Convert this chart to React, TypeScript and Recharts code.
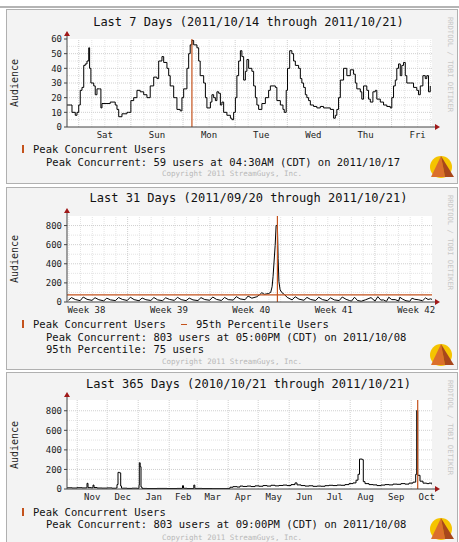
import React from "react";
import { LineChart, Line, XAxis, YAxis, ReferenceLine } from "recharts";

const MONO = '"DejaVu Sans Mono", monospace';
const PEAK = "#c4521c";
const W = 459;
const PLOT_L = 67;
const PLOT_R = 432;

// ---- last 7 days: hours since window start (Fri 10/14 evening)
const WEEK_HOURS = [
  0, 1.5, 2.3, 3.8, 4.6, 5.4, 6.1, 6.9, 7.7, 8.4,
  9.2, 10.0, 10.4, 11.0, 12.3, 13.0, 13.8, 15.0, 15.6, 16.1,
  18.4, 19.9, 22.2, 23.0, 23.8, 25.3, 27.6, 28.4, 29.4, 30.7,
  32.2, 33.7, 35.3, 36.8, 38.3, 39.9, 41.4, 42.2, 43.7, 44.5,
  46.0, 46.8, 47.5, 49.1, 49.8, 50.6, 52.1, 52.9, 53.7, 55.2,
  56.0, 56.7, 57.5, 58.3, 59.8, 60.6, 61.3, 62.9, 63.7, 64.4,
  66.0, 66.7, 67.5, 68.3, 69.0, 69.8, 70.6, 71.3, 72.1, 73.6,
  75.2, 75.9, 76.7, 77.5, 78.2, 79.0, 79.8, 80.5, 81.3, 82.1,
  82.8, 83.6, 85.1, 85.9, 86.7, 87.4, 88.2, 89.7, 91.3, 92.8,
  93.6, 95.9, 96.6, 98.2, 99.4, 100.0, 100.9, 101.5, 102.5, 103.5,
  104.3, 105.1, 106.6, 107.4, 108.1, 108.9, 109.7, 110.4, 111.2, 112.0,
  113.5, 115.0, 116.6, 118.1, 119.6, 121.2, 122.7, 123.5, 124.2, 125.0,
  125.8, 127.3, 128.8, 130.4, 131.9, 132.7, 133.4, 135.0, 135.7, 136.5,
  138.0, 138.8, 139.6, 140.8, 141.9, 142.6, 144.2, 145.7, 147.2, 148.8,
  149.5, 150.3, 151.1, 151.8, 152.6, 153.4, 154.1, 154.9, 155.7, 156.4,
  158.0, 159.5, 161.0, 161.8, 162.6, 163.8, 164.9, 165.6, 166.4, 167.2,
];
const WEEK_USERS = [
  15, 15, 10, 8, 10, 15, 25, 27, 42, 43,
  45, 54, 40, 30, 28, 22, 26, 26, 13, 16,
  16, 17, 15, 12, 7, 9, 10, 10, 18, 20,
  25, 24, 22, 20, 28, 34, 33, 45, 48, 44,
  40, 35, 28, 20, 20, 12, 11, 20, 26, 40,
  50, 56, 59, 56, 54, 45, 35, 30, 20, 13,
  17, 22, 20, 18, 24, 23, 15, 17, 10, 8,
  6, 5, 10, 20, 35, 45, 52, 48, 32, 38,
  46, 40, 38, 28, 20, 15, 12, 16, 20, 25,
  28, 27, 18, 15, 12, 10, 25, 40, 52, 50,
  45, 42, 40, 33, 30, 27, 22, 20, 18, 15,
  14, 13, 14, 13, 13, 12, 6, 8, 12, 20,
  32, 40, 35, 39, 36, 30, 26, 24, 19, 28,
  25, 19, 17, 24, 25, 19, 17, 15, 14, 13,
  20, 28, 32, 40, 43, 35, 42, 44, 35, 30,
  30, 27, 25, 22, 28, 35, 33, 35, 24, 28,
];
const WEEK_LABELS = ["Sat", "Sun", "Mon", "Tue", "Wed", "Thu", "Fri"];
const WEEK_LABEL_POS = [17.4, 41.4, 65.4, 89.4, 113.4, 137.4, 161.4];
const WEEK_DAY_EDGES = [5.4, 29.4, 53.4, 77.4, 101.4, 125.4, 149.4];
const WEEK_PEAK = 57.5;

// ---- last 31 days: days since window start (09/20 evening)
const MONTH_DAYS = [
  0.12, 0.38, 0.7, 1.12, 1.38, 1.7, 2.12, 2.38, 2.7, 3.12, 3.38, 3.7,
  4.12, 4.38, 4.7, 5.12, 5.38, 5.7, 6.12, 6.38, 6.7, 7.12, 7.38, 7.7,
  8.12, 8.38, 8.7, 9.12, 9.38, 9.7, 10.12, 10.38, 10.7, 11.12, 11.38, 11.7,
  12.12, 12.38, 12.7, 13.12, 13.38, 13.7, 14.12, 14.38, 14.7, 15.12, 15.38, 15.7,
  16.12, 16.38, 16.55, 16.75, 17.1, 17.3, 17.42, 17.5, 17.68, 17.76, 17.87, 17.93,
  18.0, 18.1, 18.27, 18.5, 18.7, 19.12, 19.38, 19.7, 20.12, 20.38, 20.7,
  21.12, 21.38, 21.7, 22.12, 22.38, 22.7, 23.12, 23.38, 23.7,
  24.0, 24.16, 24.42, 24.67, 24.99, 25.37, 25.82, 26.08, 26.17, 26.4, 26.65, 26.88,
  27.13, 27.33, 27.58, 27.87, 28.17, 28.27, 28.5, 28.79, 29.11, 29.3, 29.54, 29.83,
  30.2, 30.45, 30.67, 30.88, 31.0,
];
const MONTH_USERS = [
  18, 46, 26, 14, 52, 28, 17, 45, 24, 12, 40, 22,
  15, 47, 27, 16, 50, 25, 13, 42, 24, 16, 47, 22,
  14, 44, 27, 17, 49, 25, 14, 41, 22, 15, 46, 26,
  18, 52, 27, 16, 48, 25, 20, 56, 32, 24, 62, 40,
  55, 78, 98, 80, 88, 100, 160, 265, 593, 800, 803, 455,
  213, 127, 96, 75, 48, 22, 55, 30, 18, 48, 26,
  16, 50, 25, 14, 44, 22, 15, 52, 28,
  15, 9, 50, 16, 8, 24, 46, 18, 11, 56, 20, 22,
  6, 50, 25, 25, 10, 50, 30, 13, 7, 40, 28, 24,
  13, 43, 26, 33, 27,
];
const MONTH_LABELS = ["Week 38", "Week 39", "Week 40", "Week 41", "Week 42"];
const MONTH_LABEL_POS = [1.65, 8.65, 15.65, 22.65, 29.65];
const MONTH_WEEK_EDGES = [5.15, 12.15, 19.15, 26.15];
const MONTH_PEAK = 17.87;
const MONTH_P95 = 75;

// ---- last 365 days: days since window start (2010/10/21)
const YEAR_DAYS = [
  0, 5, 10, 15, 19.5, 20, 21, 24, 26, 27, 30, 35, 40, 45, 49, 50, 51, 52.5, 53.7, 54.5,
  60, 65, 70, 72, 72.3, 73.2, 74, 75, 80, 90, 100, 110, 115.5, 116.5, 120, 126.8, 127.8, 135,
  145, 155, 160, 163, 166, 170, 173, 176, 180, 184, 188, 192, 196, 200, 204, 208, 212, 216,
  220, 224, 228, 230, 234, 238, 242, 246, 250, 254, 258, 262, 266, 270, 274, 278, 282, 286,
  289, 291, 292.5, 295.3, 296.3, 298, 302, 306, 310, 314, 318, 322, 326, 330, 334, 338, 342,
  346, 348.7, 349.7, 350.7, 353, 356, 359.7, 362, 365,
];
const YEAR_USERS = [
  12, 10, 13, 11, 12, 58, 14, 12, 40, 15, 10, 9, 11, 8, 10, 45, 170, 165, 30, 8,
  6, 8, 7, 40, 268, 228, 20, 6, 5, 6, 5, 6, 34, 7, 5, 40, 6, 5,
  4, 4, 6, 18, 24, 20, 30, 26, 30, 25, 32, 28, 35, 30, 38, 32, 36, 40,
  35, 45, 62, 42, 35, 30, 33, 27, 30, 28, 34, 38, 35, 40, 38, 45, 55, 62,
  90, 150, 306, 300, 75, 55, 45, 42, 35, 40, 45, 42, 50, 48, 55, 50, 60,
  70, 150, 803, 140, 80, 60, 55, 60, 45,
];
const YEAR_LABELS = ["Nov", "Dec", "Jan", "Feb", "Mar", "Apr", "May", "Jun", "Jul", "Aug", "Sep", "Oct"];
const YEAR_LABEL_POS = [25.2, 55.7, 86.7, 116.2, 145.7, 176.2, 206.7, 237.2, 267.7, 298.7, 329.2, 359.7];
const YEAR_MONTH_EDGES = [10.2, 40.2, 71.2, 102.2, 130.2, 161.2, 191.2, 222.2, 252.2, 283.2, 314.2, 344.2];
const YEAR_PEAK = 350.7;

const zip = (xs: number[], ys: number[]) => xs.map((x, i) => ({ t: x, users: ys[i] }));

const steps = (from: number, to: number, step: number, skip: number[] = []) => {
  const out: number[] = [];
  for (let v = from; v <= to + 1e-6; v += step) {
    if (!skip.some((s) => Math.abs(s - v) < 1e-6)) out.push(+v.toFixed(2));
  }
  return out;
};

interface PanelProps {
  boxTop: number;
  boxBottom: number;
  titleY: number;
  plotTop: number;
  plotBottom: number;
  title: string;
  data: { t: number; users: number }[];
  xMax: number;
  yMax: number;
  yTicks: number[];
  labels: string[];
  labelPos: number[];
  majorX: number[];
  minorX: number[];
  majorY: number[];
  minorY: number[];
  curve: "stepAfter" | "linear";
  peak: number;
  p95?: number;
  legendY: number[];
  legendLines: string[];
  copyrightY: number;
  logoTop: number;
}

const text = (x: number, y: number, size: number, s: string, extra: React.CSSProperties = {}) => (
  <div
    style={{
      position: "absolute",
      left: x,
      top: y - size / 2 - 1,
      fontFamily: MONO,
      fontSize: size,
      lineHeight: `${size + 2}px`,
      whiteSpace: "pre",
      color: "#111",
      ...extra,
    }}
  >
    {s}
  </div>
);

function Logo({ top }: { top: number }) {
  return (
    <svg style={{ position: "absolute", left: 428, top }} width={28} height={24}>
      <circle cx={13} cy={11} r={11} fill="#f5c400" />
      <polygon points="13,0 3,21 17,21" fill="#db6f2c" />
      <polygon points="13,0 17,21 26,21" fill="#a8471c" />
    </svg>
  );
}

function Panel(p: PanelProps) {
  const plotH = p.plotBottom - p.plotTop;
  const chartTop = p.plotTop - 6;
  const mid = (p.plotTop + p.plotBottom) / 2;
  return (
    <>
      <div
        style={{
          position: "absolute",
          left: 6,
          top: p.boxTop,
          width: 450,
          height: p.boxBottom - p.boxTop - 2,
          background: "#f3f3f3",
          border: "1px solid #b0b0b0",
        }}
      />
      <div
        style={{
          position: "absolute",
          left: PLOT_L,
          top: p.plotTop,
          width: PLOT_R - PLOT_L,
          height: plotH,
          background: "#fff",
        }}
      />
      <div style={{ position: "absolute", left: 0, top: 0, width: W, textAlign: "center" }}>
        <div
          style={{
            position: "absolute",
            left: 248.5 - 200,
            top: p.titleY - 7,
            width: 400,
            textAlign: "center",
            fontFamily: MONO,
            fontSize: 12,
            lineHeight: "14px",
            whiteSpace: "pre",
            color: "#111",
          }}
        >
          {p.title}
        </div>
      </div>
      <div
        style={{
          position: "absolute",
          left: 15 - 40,
          top: mid - 44 - 6,
          width: 80,
          textAlign: "center",
          fontFamily: MONO,
          fontSize: 10,
          lineHeight: "12px",
          color: "#222",
          transform: "rotate(-90deg)",
          transformOrigin: "40px 6px",
          marginTop: 44,
        }}
      >
        Audience
      </div>
      <div
        style={{
          position: "absolute",
          left: 450 - 60,
          top: p.boxTop + 56 - 5,
          width: 120,
          textAlign: "center",
          fontFamily: MONO,
          fontSize: 7.2,
          lineHeight: "9px",
          color: "#c8c8c8",
          transform: "rotate(90deg)",
          transformOrigin: "60px 4.5px",
          whiteSpace: "pre",
        }}
      >
        RRDTOOL / TOBI OETIKER
      </div>
      <div style={{ position: "absolute", left: 0, top: chartTop }}>
        <LineChart
          width={W}
          height={plotH + 26}
          data={p.data}
          margin={{ top: 6, right: W - PLOT_R, left: PLOT_L - 40, bottom: 6 }}
        >
          <XAxis
            dataKey="t"
            type="number"
            domain={[0, p.xMax]}
            ticks={p.labelPos}
            interval={0}
            tickFormatter={(v: number) => p.labels[p.labelPos.indexOf(v)] ?? ""}
            tickLine={false}
            tickSize={5}
            tickMargin={0}
            height={14}
            axisLine={{ stroke: "#444" }}
            tick={{ fontSize: 9, fontFamily: MONO, fill: "#222" }}
            allowDataOverflow
          />
          <YAxis
            type="number"
            domain={[0, p.yMax]}
            ticks={p.yTicks}
            interval={0}
            width={40}
            tickSize={3}
            tickMargin={2}
            tickLine={{ stroke: "#444" }}
            axisLine={{ stroke: "#444" }}
            tick={{ fontSize: 9, fontFamily: MONO, fill: "#222" }}
            allowDataOverflow
          />
          {p.minorX.map((v) => (
            <ReferenceLine key={`mx${v}`} x={v} stroke="#e4e4e4" strokeDasharray="1 1" />
          ))}
          {p.minorY.map((v) => (
            <ReferenceLine key={`my${v}`} y={v} stroke="#e4e4e4" strokeDasharray="1 1" />
          ))}
          {p.majorX.map((v) => (
            <ReferenceLine key={`Mx${v}`} x={v} stroke="#cfcfcf" strokeDasharray="1 1" />
          ))}
          {p.majorY.map((v) => (
            <ReferenceLine key={`My${v}`} y={v} stroke="#cfcfcf" strokeDasharray="1 1" />
          ))}
          <Line
            type={p.curve}
            dataKey="users"
            stroke="#000"
            strokeWidth={1}
            dot={false}
            activeDot={false}
            isAnimationActive={false}
          />
          {p.p95 !== undefined && <ReferenceLine y={p.p95} stroke={PEAK} strokeWidth={1.2} />}
          <ReferenceLine x={p.peak} stroke={PEAK} strokeWidth={1.2} />
        </LineChart>
      </div>
      <svg style={{ position: "absolute", left: 0, top: 0 }} width={W} height={545}>
        <line x1={PLOT_L} y1={p.plotTop} x2={PLOT_L} y2={p.plotTop - 4} stroke="#444" />
        <polygon
          points={`${PLOT_L - 3},${p.plotTop - 3} ${PLOT_L + 3},${p.plotTop - 3} ${PLOT_L},${p.plotTop - 8}`}
          fill="#a01818"
        />
        <line x1={PLOT_R} y1={p.plotBottom} x2={PLOT_R + 4} y2={p.plotBottom} stroke="#444" />
        <polygon
          points={`${PLOT_R + 3},${p.plotBottom - 3} ${PLOT_R + 3},${p.plotBottom + 3} ${PLOT_R + 8},${p.plotBottom}`}
          fill="#a01818"
        />
      </svg>
      {p.legendLines.map((s, i) =>
        text(i === 0 ? 33 : 46, p.legendY[i], 10.5, s, { key: i } as any)
      )}
      <div
        style={{
          position: "absolute",
          left: 22,
          top: p.legendY[0] - 4,
          width: 2,
          height: 8,
          background: PEAK,
        }}
      />
      {p.p95 !== undefined && (
        <>
          <div
            style={{
              position: "absolute",
              left: 181,
              top: p.legendY[0] - 0.5,
              width: 6,
              height: 1.5,
              background: PEAK,
            }}
          />
          {text(196, p.legendY[0], 10.5, "95th Percentile Users")}
        </>
      )}
      <div
        style={{
          position: "absolute",
          left: 232 - 100,
          top: p.copyrightY - 5,
          width: 200,
          textAlign: "center",
          fontFamily: MONO,
          fontSize: 7.5,
          lineHeight: "10px",
          color: "#b8b8b8",
        }}
      >
        Copyright 2011 StreamGuys, Inc.
      </div>
      <Logo top={p.logoTop} />
    </>
  );
}

export default function App() {
  return (
    <div
      style={{
        position: "absolute",
        left: 0,
        top: 0,
        width: W,
        height: 542,
        overflow: "hidden",
        background: "#fff",
      }}
    >
      <div style={{ position: "absolute", left: 0, top: 6, width: W, height: 2, background: "#b4b4b4" }} />
      <Panel
        boxTop={9}
        boxBottom={184}
        titleY={22}
        plotTop={39}
        plotBottom={127}
        title="Last 7 Days (2011/10/14 through 2011/10/21)"
        data={zip(WEEK_HOURS, WEEK_USERS)}
        xMax={168}
        yMax={60}
        yTicks={[0, 10, 20, 30, 40, 50, 60]}
        labels={WEEK_LABELS}
        labelPos={WEEK_LABEL_POS}
        majorX={WEEK_DAY_EDGES}
        minorX={steps(5.4, 167.4, 6, WEEK_DAY_EDGES)}
        majorY={[10, 20, 30, 40, 50]}
        minorY={[5, 15, 25, 35, 45, 55]}
        curve="stepAfter"
        peak={WEEK_PEAK}
        legendY={[149, 162]}
        legendLines={[
          "Peak Concurrent Users",
          "Peak Concurrent: 59 users at 04:30AM (CDT) on 2011/10/17",
        ]}
        copyrightY={174}
        logoTop={156}
      />
      <Panel
        boxTop={187}
        boxBottom={370}
        titleY={198}
        plotTop={216}
        plotBottom={302}
        title="Last 31 Days (2011/09/20 through 2011/10/21)"
        data={zip(MONTH_DAYS, MONTH_USERS)}
        xMax={31}
        yMax={900}
        yTicks={[0, 200, 400, 600, 800]}
        labels={MONTH_LABELS}
        labelPos={MONTH_LABEL_POS}
        majorX={MONTH_WEEK_EDGES}
        minorX={steps(0.15, 30.15, 1, MONTH_WEEK_EDGES)}
        majorY={[200, 400, 600, 800]}
        minorY={[100, 300, 500, 700]}
        curve="linear"
        peak={MONTH_PEAK}
        p95={MONTH_P95}
        legendY={[324, 337, 349]}
        legendLines={[
          "Peak Concurrent Users",
          "Peak Concurrent: 803 users at 05:00PM (CDT) on 2011/10/08",
          "95th Percentile: 75 users",
        ]}
        copyrightY={362}
        logoTop={344}
      />
      <Panel
        boxTop={372}
        boxBottom={548}
        titleY={384}
        plotTop={400}
        plotBottom={489}
        title="Last 365 Days (2010/10/21 through 2011/10/21)"
        data={zip(YEAR_DAYS, YEAR_USERS)}
        xMax={365}
        yMax={910}
        yTicks={[0, 200, 400, 600, 800]}
        labels={YEAR_LABELS}
        labelPos={YEAR_LABEL_POS}
        majorX={YEAR_MONTH_EDGES}
        minorX={[]}
        majorY={[200, 400, 600, 800]}
        minorY={[100, 300, 500, 700]}
        curve="stepAfter"
        peak={YEAR_PEAK}
        legendY={[512, 524]}
        legendLines={[
          "Peak Concurrent Users",
          "Peak Concurrent: 803 users at 09:00PM (CDT) on 2011/10/08",
        ]}
        copyrightY={538}
        logoTop={518}
      />
    </div>
  );
}
